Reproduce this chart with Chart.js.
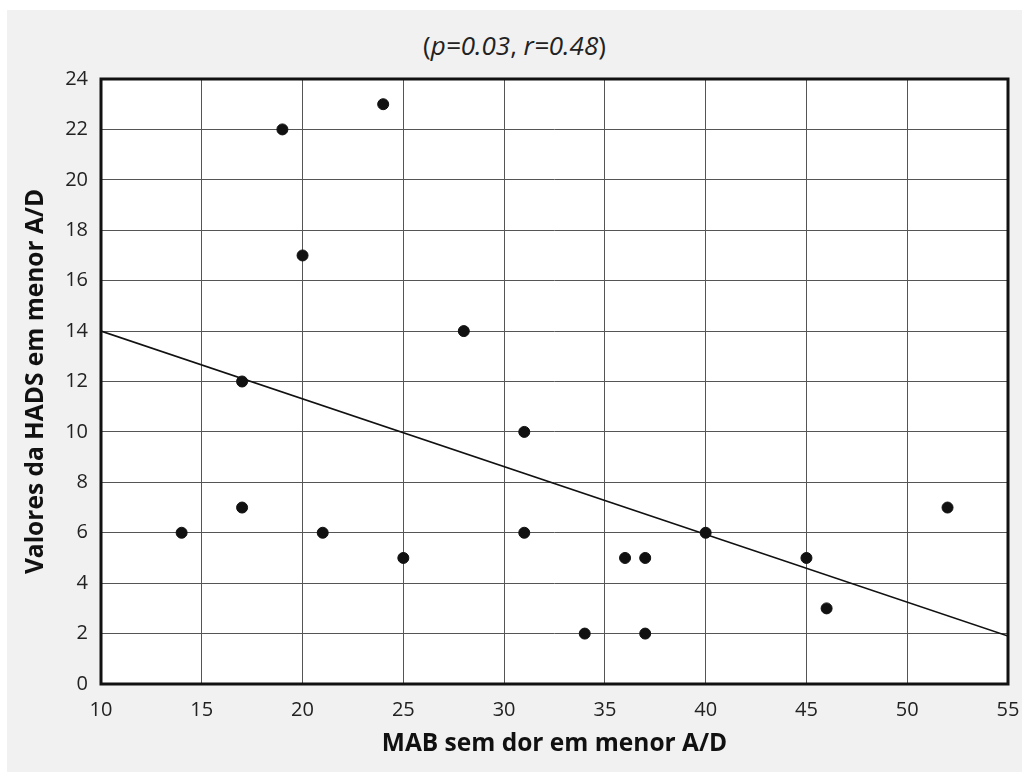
<!DOCTYPE html>
<html>
<head>
<meta charset="utf-8">
<script src="https://cdn.jsdelivr.net/npm/chart.js@4"></script>
<style>
  body { margin: 0; background: #fff; width: 1022px; height: 772px; overflow: hidden; }
  #caixa { position: absolute; left: 7px; top: 10px; width: 1015px; height: 762px; background: #f1f1f1; }
  #titulo { position: absolute; left: 0; width: 1015px; top: 17px; text-align: center;
    font-family: "Open Sans", sans-serif; font-size: 26px; color: #222; }
  canvas { position: absolute; left: 0; top: 0; }
</style>
</head>
<body>
<div id="caixa">
  <div id="titulo">(<i>p=0.03</i>, <i>r=0.48</i>)</div>
  <canvas id="grafico" width="1015" height="762"></canvas>
</div>
<script>
// valores
const mab = [14, 17, 17, 19, 20, 21, 24, 25, 28, 31, 31, 34, 36, 37, 37, 40, 45, 46, 52];
const hads = [6, 7, 12, 22, 17, 6, 23, 5, 14, 10, 6, 2, 5, 5, 2, 6, 5, 3, 7];

// reta de tendencia (extremos)
const retaX = [10, 55];
const retaY = [14, 1.9];

const pontos = mab.map((x, i) => ({ x: x, y: hads[i] }));
const reta = retaX.map((x, i) => ({ x: x, y: retaY[i] }));

// fundo branco e moldura grossa da area do grafico
const moldura = {
  id: 'moldura',
  beforeDraw(chart) {
    const { ctx, chartArea: a } = chart;
    ctx.save();
    ctx.fillStyle = '#fff';
    ctx.fillRect(a.left, a.top, a.right - a.left, a.bottom - a.top);
    ctx.restore();
  },
  afterDatasetsDraw(chart) {
    const { ctx, chartArea: a } = chart;
    ctx.save();
    ctx.strokeStyle = '#111';
    ctx.lineWidth = 3;
    ctx.strokeRect(a.left, a.top, a.right - a.left, a.bottom - a.top);
    ctx.restore();
  }
};

const fonteTick = { family: 'Open Sans', size: 20 };
const fonteTitulo = { family: 'Open Sans', size: 24.5, weight: 'bold' };

new Chart(document.getElementById('grafico'), {
  type: 'scatter',
  data: {
    datasets: [
      {
        label: 'Pacientes',
        data: pontos,
        backgroundColor: '#111',
        borderColor: '#111',
        pointRadius: 5.5
      },
      {
        type: 'line',
        label: 'Tendência',
        data: reta,
        borderColor: '#111',
        borderWidth: 1.6,
        pointRadius: 0,
        fill: false
      }
    ]
  },
  options: {
    responsive: false,
    animation: false,
    layout: { padding: { top: 69, right: 14, bottom: 0, left: 0 } },
    plugins: { legend: { display: false }, tooltip: { enabled: false } },
    scales: {
      x: {
        type: 'linear',
        min: 10,
        max: 55,
        afterFit(scale) {
          scale.height = 88;
          scale.paddingLeft = 0;
          scale.paddingRight = 0;
        },
        ticks: { stepSize: 5, color: '#222', font: fonteTick, padding: 14 },
        grid: { color: '#555', lineWidth: 1, drawTicks: false },
        border: { display: false },
        title: {
          display: true,
          text: 'MAB sem dor em menor A/D',
          color: '#111',
          font: fonteTitulo,
          padding: { top: 4, bottom: 13 }
        }
      },
      y: {
        min: 0,
        max: 24,
        afterFit(scale) { scale.width = 94; },
        ticks: { stepSize: 2, color: '#222', font: fonteTick, padding: 13 },
        grid: { color: '#555', lineWidth: 1, drawTicks: false },
        border: { display: false },
        title: {
          display: true,
          text: 'Valores da HADS em menor A/D',
          color: '#111',
          font: fonteTitulo,
          padding: { top: 14, bottom: 4 }
        }
      }
    }
  },
  plugins: [moldura]
});
</script>
</body>
</html>
